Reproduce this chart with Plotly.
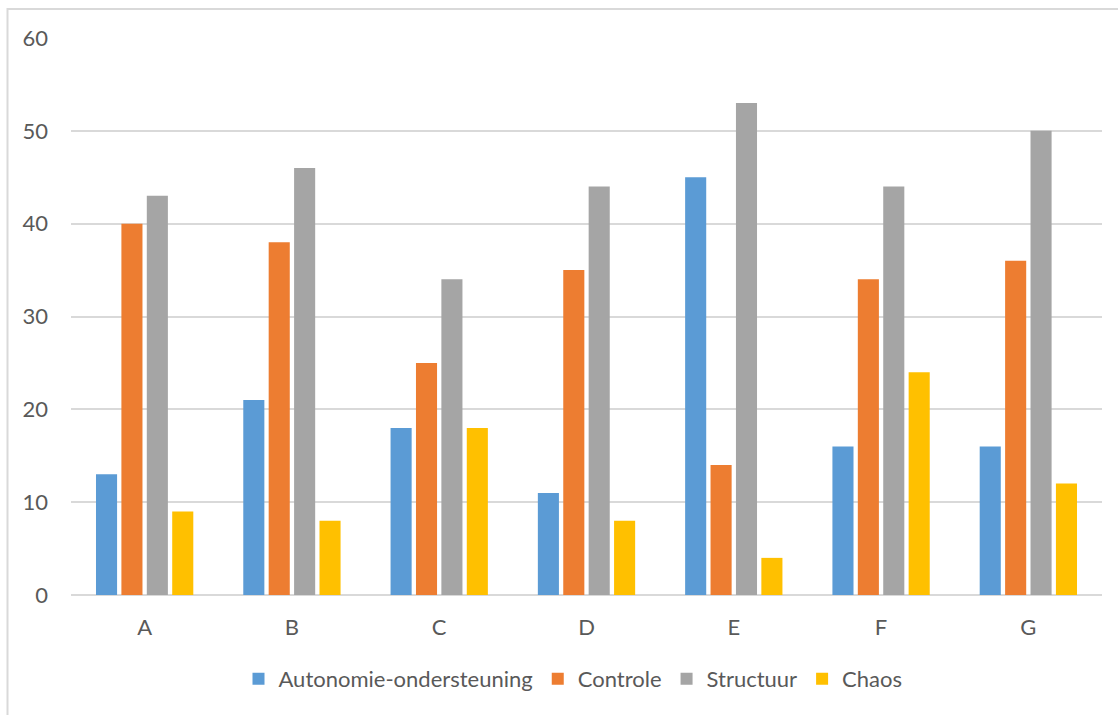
import plotly.graph_objects as go

categories = ["A", "B", "C", "D", "E", "F", "G"]
autonomie = [13, 21, 18, 11, 45, 16, 16]
controle = [40, 38, 25, 35, 14, 34, 36]
structuur = [43, 46, 34, 44, 53, 44, 50]
chaos = [9, 8, 18, 8, 4, 24, 12]
y_ticks = [0, 10, 20, 30, 40, 50, 60]

series = [
    ("Autonomie-ondersteuning", autonomie, "#5B9BD5"),
    ("Controle", controle, "#ED7D31"),
    ("Structuur", structuur, "#A5A5A5"),
    ("Chaos", chaos, "#FFC000"),
]

fig = go.Figure()
for name, vals, col in series:
    fig.add_trace(go.Bar(x=categories, y=vals, name=name, marker=dict(color=col, line=dict(width=0))))

W, H = 1118, 715
L, R, T, B = 71, 16, 38, 120
pw = W - L - R
ph = H - T - B

def px_x(p):
    return (p - L) / pw

def px_y(p):
    return (H - B - p) / ph

FONT = "Lato"
TXT = "#595959"
FS = 22

fig.update_layout(
    width=W, height=H,
    margin=dict(l=L, r=R, t=T, b=B),
    paper_bgcolor="white", plot_bgcolor="white",
    barmode="group", bargap=0.31, bargroupgap=0.17,
    font=dict(family=FONT, size=FS, color=TXT),
    xaxis=dict(showgrid=False, showline=False, ticks="", tickfont=dict(size=FS, color=TXT), ticklabelstandoff=17),
    yaxis=dict(range=[0, 60], tickvals=y_ticks, showgrid=True, gridcolor="#D9D9D9", gridwidth=1.5,
               zeroline=True, zerolinecolor="#D9D9D9", zerolinewidth=1.5, showline=False,
               tickfont=dict(size=FS, color=TXT), ticks="", ticklabelstandoff=22),
    legend=dict(orientation="h", x=px_x(573), xanchor="center", y=px_y(679), yanchor="middle",
                font=dict(size=FS, color=TXT), itemwidth=30, traceorder="normal", tracegroupgap=0),
    showlegend=True,
    shapes=[dict(type="path", xref="paper", yref="paper",
                 path=f"M {px_x(7.5)},{px_y(720)} L {px_x(7.5)},{px_y(9)} L {px_x(1125)},{px_y(9)}",
                 line=dict(color="#D9D9D9", width=2), layer="below")],
)

fig.write_html("out.html")
